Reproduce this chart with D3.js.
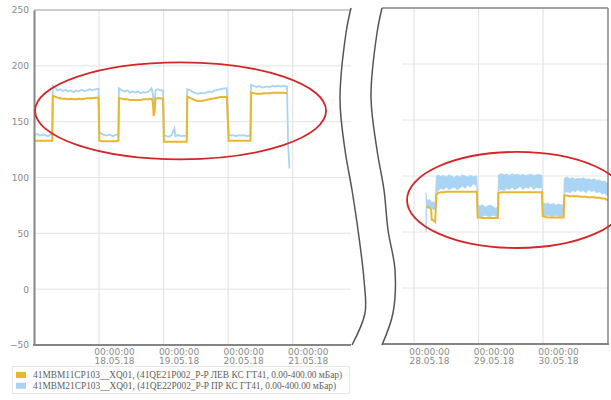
<!DOCTYPE html>
<html><head><meta charset="utf-8">
<script src="https://cdn.jsdelivr.net/npm/d3@7/dist/d3.min.js"></script>
<style>body{margin:0;background:#fff}svg{display:block}</style>
</head><body><svg id="c" width="611" height="400"></svg>
<script>
// ---------- data ----------
const seriesNames = [
  "41MBM11CP103__XQ01, (41QE21P002_P-P ЛЕВ КС ГТ41, 0.00-400.00 мБар)",
  "41MBM21CP103__XQ01, (41QE22P002_P-P ПР КС ГТ41, 0.00-400.00 мБар)"
];
const seriesColors = ["#e8b630", "#a9d4f3"];
const yTicks = [-50, 0, 50, 100, 150, 200, 250];
const leftDays = ["18.05.18", "19.05.18", "20.05.18", "21.05.18"];
const rightDays = ["28.05.18", "29.05.18", "30.05.18"];
const tickTime = "00:00:00";

// left panel: hours since 17.05.18 00:00
const leftStart = "17.05.18 00:00";
const leftHours = [0,1,2,3,4,5,6,6.6,6.8,7.5,8.5,9.5,10.5,11.5,12.5,13.5,14.5,15.5,16.5,17.5,18.5,19.5,20.5,21.5,22.5,23.8,
  24.1,25,26,27,28,29,30,31.2,31.4,32.5,33.5,34.5,35.5,36.5,37.5,38.5,39.5,40.5,41.5,42.5,43.5,44.0,44.3,44.7,45.0,45.8,46.8,47.8,
  48.1,49,50,51,52,52.4,53.5,54.5,55.5,56.6,56.8,58,59,60,61,62,63,64,65,66,67,68,69,70,71.5,
  72.2,73,74,75,76,77,78,79,80.3,80.5,81.5,82.5,83.5,84.5,85.5,86.5,87.5,88.5,89.5,90.5,91.5,92.5,93.9,94.3,94.8];
const leftYellow = [133,133,133,133,133,133,133,133,173,172.5,171.5,171,170.5,170.5,170,170.5,170,170,170.5,170,170.5,171,171,171,171.5,171.5,
  133,132.5,132.5,132.5,132.5,132.5,132.5,133,171,170.5,170,170,169.5,169.5,169.5,169.5,169.5,170,170,170,170.5,168,155,160,170.5,171,171,170.5,
  132,132,132,132,132,132,132,132,132,132,172.5,171,170,169,168.5,168.5,169,169.5,170,170.5,171,171.5,172,172,172,
  133,133,133,133,133,133,133,133,133,176,175.5,175,175,175,175.5,175.5,175.5,176,176,176,176,176,175.5,null,null];
const leftBlue = [138,139,137.5,138.5,138,137,138.5,138,182,181,178,179,177.5,178.5,177,178,176.5,178,177,178.5,177.5,178,179,178,179,179.5,
  141,139,138,137.5,138.5,137,138,138.5,180,178,177,178,176,177,176,177,175.5,176.5,176,177,180,175,165,168,178,179,178,178,
  138,137,136.5,138,144,137,138,137,137.5,137,179,178,176.5,175.5,175,176,175.5,176,177,176.5,178,178.5,179,179.5,180,
  138.5,137.5,138,137,138,137.5,138,137,138,183,182,181,182,180.5,181,181.5,181,182,181.5,182,181.5,182,181.5,129,108];

// right panel: hours since 28.05.18 00:00 (blue drawn as min/max band)
const rightStart = "28.05.18 00:00";
const rightHours = [4.5,4.6,5.2,5.9,6.4,6.6,7.2,7.9,8.3,9,10,11,12,13,14,15,16,17,18,19,20,21,22,23.4,
  23.7,24.5,25.5,26.5,27.5,28.5,29.5,30.5,31.2,31.4,32.5,33.5,34.5,35.5,36.5,37.5,38.5,39.5,40.5,41.5,42.5,43.5,44.5,45.5,46.5,47.6,
  47.9,48.8,49.8,50.8,51.8,52.8,53.8,54.8,55.7,55.9,57,58,59,60,61,62,63,64,65,66,67,68,69,70,71,71.6,72.5];
const rightYellow = [null,72,72,71.5,70,61,60.5,59,83,85,85.5,85.5,86,86,86,86,86,86,86,86,86,86,86,86,
  63,63,62.5,62.5,62.5,62.5,62.5,62.5,62.5,85,85.5,85.5,85.5,85.5,85.5,85.5,85.5,85.5,85.5,85.5,85.5,85.5,85.5,85.5,85.5,85.5,
  64,63.5,63,63,63,63,63,63,63,82.5,82.5,82,82,82,82,81.5,81.5,81.5,81,81,81,80.5,80.5,80,80,79,78];
const rightBlueLo = [50,71,72,71,72,71,70,70,85,87,89,88,90,88,89,90,88,89,91,89,92,90,93,91,
  64,64,64,65,64,64,65,64,64,87,88,87,89,88,90,88,89,91,88,90,89,91,88,90,89,90,
  65,64,65,64,64,65,64,64,65,85,86,85,87,86,88,86,87,85,88,86,87,85,86,84,85,83,82];
const rightBlueHi = [85,80,78,79,77,76,77,76,100,101,99.5,100.5,99,101,100,98.5,100.5,99,101,100,99,100.5,99.5,100,
  75,73,74.5,72,73.5,74,72.5,71,73,101,102,101,101.5,100.5,102,101,101.5,100.5,101.5,100.5,101,101.5,100.5,101,101.5,100.5,
  76,75,76,74.5,75.5,74,75,74,75,98,99,97.5,98.5,97,98,97.5,98.5,97,97.5,96.5,97.5,96,96.5,95,95.5,94,93];

// annotations (ellipses in data units)
const ellipseCenters = ["19.05.18 06:18", "29.05.18 14:18"];
const ellipseValues = [159.7, 78.6];
const ellipseHalfHours = [54.1, 40.9];
const ellipseHalfValues = [43.4, 42.9];

// ---------- drawing ----------
const parse = d3.timeParse("%d.%m.%y %H:%M");
const svg = d3.select("#c");
const gridC = "#e4e4e4", axisC = "#858585", textC = "#8a8a8a";

const xL = d3.scaleTime().domain([parse("17.05.18 00:00"), parse("21.05.18 00:00")]).range([34.5, 292.7]);
const yL = d3.scaleLinear().domain([-50, 250]).range([345, 10]);
const xR = d3.scaleTime().domain([parse("28.05.18 00:00"), parse("30.05.18 00:00")]).range([414, 543]);
const yR = d3.scaleLinear().domain([-50, 250]).range([344, 8]);

const lStart = parse(leftStart), rStart = parse(rightStart);
const hOff = (base, h) => new Date(base.getTime() + h * 3600000);
const leftData = leftHours.map((h, i) => ({t: hOff(lStart, h), y: leftYellow[i], b: leftBlue[i]}));
const rightData = rightHours.map((h, i) => ({t: hOff(rStart, h), y: rightYellow[i], lo: rightBlueLo[i], hi: rightBlueHi[i]}));

// frames
const lRight = 351, rLeft = 382, rRight = 608, rGridStart = 402;

// left grid
const gL = svg.append("g");
gL.selectAll("line.h").data(yTicks.filter(v => v !== 250)).join("line")
  .attr("x1", xL.range()[0]).attr("x2", lRight).attr("y1", d => yL(d)).attr("y2", d => yL(d))
  .attr("stroke", gridC).attr("stroke-width", 1);
gL.selectAll("line.v").data(leftDays).join("line")
  .attr("x1", d => xL(parse(d + " 00:00"))).attr("x2", d => xL(parse(d + " 00:00")))
  .attr("y1", yL(250)).attr("y2", yL(-50)).attr("stroke", gridC).attr("stroke-width", 1.2);

// right grid
const gR = svg.append("g");
gR.selectAll("line.h").data(yTicks.filter(v => v !== 250 && v !== -50)).join("line")
  .attr("x1", rGridStart).attr("x2", rRight).attr("y1", d => yR(d)).attr("y2", d => yR(d))
  .attr("stroke", gridC).attr("stroke-width", 1);
gR.selectAll("line.v").data(rightDays).join("line")
  .attr("x1", d => xR(parse(d + " 00:00"))).attr("x2", d => xR(parse(d + " 00:00")))
  .attr("y1", yR(250)).attr("y2", yR(-50)).attr("stroke", gridC).attr("stroke-width", 1.2);

// left series
const lineLB = d3.line().defined(d => d.b != null).x(d => xL(d.t)).y(d => yL(d.b));
const lineLY = d3.line().defined(d => d.y != null).x(d => xL(d.t)).y(d => yL(d.y));
svg.append("path").datum(leftData).attr("d", lineLB).attr("fill", "none")
  .attr("stroke", seriesColors[1]).attr("stroke-width", 1.8);
svg.append("path").datum(leftData).attr("d", lineLY).attr("fill", "none")
  .attr("stroke", seriesColors[0]).attr("stroke-width", 2);

// right series (clipped)
svg.append("clipPath").attr("id", "clipR").append("rect")
  .attr("x", rLeft).attr("y", yR(250)).attr("width", rRight - rLeft).attr("height", yR(-50) - yR(250));
const gRS = svg.append("g").attr("clip-path", "url(#clipR)");
const areaR = d3.area().x(d => xR(d.t)).y0(d => yR(d.lo)).y1(d => yR(d.hi));
gRS.append("path").datum(rightData).attr("d", areaR).attr("fill", seriesColors[1])
  .attr("stroke", seriesColors[1]).attr("stroke-width", 0.8);
const lineRY = d3.line().defined(d => d.y != null).x(d => xR(d.t)).y(d => yR(d.y));
gRS.append("path").datum(rightData).attr("d", lineRY).attr("fill", "none")
  .attr("stroke", seriesColors[0]).attr("stroke-width", 2);

// axes & frames
const fontSans = "'DejaVu Sans', sans-serif";
const axL = svg.append("g").attr("transform", `translate(${xL.range()[0] - 0.5},0)`)
  .call(d3.axisLeft(yL).tickValues(yTicks).tickSize(0).tickPadding(5));
axL.select(".domain").attr("stroke", axisC).attr("stroke-width", 2);
axL.selectAll("text").attr("fill", textC).attr("font-family", fontSans).attr("font-size", 9);

svg.append("line").attr("x1", xL.range()[0] - 1.5).attr("x2", lRight).attr("y1", yL(-50)).attr("y2", yL(-50))
  .attr("stroke", axisC).attr("stroke-width", 2);
svg.append("line").attr("x1", xL.range()[0] - 0.5).attr("x2", lRight).attr("y1", yL(250)).attr("y2", yL(250))
  .attr("stroke", "#9a9a9a").attr("stroke-width", 1.2);

svg.append("line").attr("x1", rLeft).attr("x2", rRight + 1).attr("y1", yR(-50)).attr("y2", yR(-50))
  .attr("stroke", axisC).attr("stroke-width", 2);
svg.append("line").attr("x1", rLeft).attr("x2", rRight).attr("y1", yR(250)).attr("y2", yR(250))
  .attr("stroke", axisC).attr("stroke-width", 1.5);
svg.append("line").attr("x1", rRight).attr("x2", rRight).attr("y1", yR(250)).attr("y2", yR(-50))
  .attr("stroke", axisC).attr("stroke-width", 1.5);

function dayAxis(scale, days, y0) {
  const g = svg.append("g").attr("transform", `translate(0,${y0})`)
    .call(d3.axisBottom(scale).tickValues(days.map(d => parse(d + " 00:00"))).tickSize(0).tickFormat(""));
  g.select(".domain").remove();
  g.selectAll(".tick").each(function(d, i) {
    const t = d3.select(this).select("text").attr("fill", textC).attr("font-family", fontSans)
      .attr("font-size", 9).attr("text-anchor", "middle").attr("y", 0).attr("dy", 0);
    t.append("tspan").attr("x", 15).attr("y", 10).text(tickTime);
    t.append("tspan").attr("x", 15).attr("y", 18.5).text(days[i]);
  });
}
dayAxis(xL, leftDays, yL(-50));
dayAxis(xR, rightDays, yR(-50) + 1);

// break curves
const brk = d3.line().curve(d3.curveCatmullRom);
const leftCurve = [[351,8],[346,33],[340,100],[345,150],[352,190],[358,230],[364,280],[365,313],[352,345]];
const rightCurve = [[382,8],[377,33],[371,97],[377,150],[384,190],[388,230],[395,270],[393,313],[382,345]];
[leftCurve, rightCurve].forEach(c => svg.append("path").attr("d", brk(c)).attr("fill", "none")
  .attr("stroke", "#555").attr("stroke-width", 1.5));

// ellipses
const ellData = ellipseCenters.map((c, i) => ({c: parse(c), v: ellipseValues[i], hh: ellipseHalfHours[i], hv: ellipseHalfValues[i], x: i === 0 ? xL : xR, y: i === 0 ? yL : yR}));
svg.selectAll("ellipse.ann").data(ellData).join("ellipse")
  .attr("cx", d => d.x(d.c)).attr("cy", d => d.y(d.v))
  .attr("rx", d => d.x(hOff(d.c, d.hh)) - d.x(d.c)).attr("ry", d => d.y(d.v - d.hv) - d.y(d.v))
  .attr("fill", "none").attr("stroke", "#d42626").attr("stroke-width", 1.8);

// legend
const lg = svg.append("g");
lg.append("rect").attr("x", 12.5).attr("y", 366.5).attr("width", 337).attr("height", 27)
  .attr("fill", "#fff").attr("stroke", "#e6e6e6");
seriesNames.forEach((n, i) => {
  lg.append("rect").attr("x", 16).attr("y", 372 + i * 10.7).attr("width", 10).attr("height", 6)
    .attr("fill", seriesColors[i]);
  lg.append("text").attr("x", 33).attr("y", 378 + i * 10.7).text(n)
    .attr("font-family", "'Liberation Serif', serif").attr("font-size", 9.4).attr("fill", "#606060");
});
</script></body></html>
